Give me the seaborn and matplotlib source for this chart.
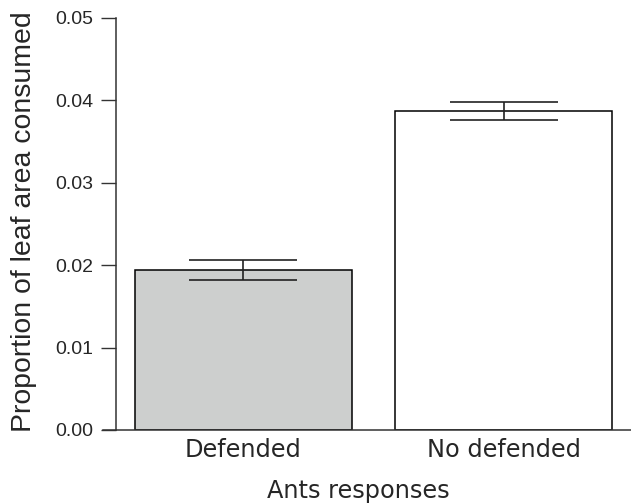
import pandas as pd
import matplotlib
matplotlib.use("Agg")
import matplotlib.pyplot as plt
import seaborn as sns

# values
groups = ["Defended", "No defended"]
means = [0.0194, 0.0387]
errors = [0.0012, 0.00105]
bar_colors = ["#cdcfce", "#ffffff"]
yticks = [0, 0.01, 0.02, 0.03, 0.04, 0.05]
ytick_labels = ["0.00", "0.01", "0.02", "0.03", "0.04", "0.05"]

df = pd.DataFrame({"group": groups, "mean": means, "err": errors})

sns.set_style("white")

fig = plt.figure(figsize=(6.31, 5.04), dpi=100)
ax = fig.add_axes([103 / 631, 74 / 504, 528 / 631, 412 / 504])

sns.barplot(
    data=df,
    x="group",
    y="mean",
    hue="group",
    palette=bar_colors,
    width=0.835,
    edgecolor="black",
    linewidth=1.1,
    errorbar=None,
    legend=False,
    ax=ax,
)
ax.errorbar(
    x=range(len(groups)),
    y=df["mean"],
    yerr=df["err"],
    fmt="none",
    ecolor="#222222",
    elinewidth=1.2,
    capsize=39,
    capthick=1.2,
)

# spines first: set_position resets the tick styling
for s in ["top", "right"]:
    ax.spines[s].set_visible(False)
ax.spines["left"].set_position(("data", -0.49))
for s in ["left", "bottom"]:
    ax.spines[s].set_color("#333333")
    ax.spines[s].set_linewidth(1.1)

ax.set_xlim(-0.54, 1.49)
ax.set_ylim(0, 0.05)
ax.set_yticks(yticks)
ax.set_yticklabels(ytick_labels, fontsize=14, family="Liberation Sans")
ax.set_xticks([0, 1])
ax.set_xticklabels(groups, fontsize=17.3, family="DejaVu Sans")

ax.tick_params(axis="y", which="major", left=True, length=11, width=1.0, color="#333333", pad=5.5)
ax.tick_params(axis="x", which="major", bottom=False, length=0, pad=6)

ax.set_ylabel("Proportion of leaf area consumed", fontsize=20.4, family="Liberation Sans")
ax.yaxis.set_label_coords(-0.125, 0.506)
ax.set_xlabel("Ants responses", fontsize=17.3, family="DejaVu Sans", labelpad=12)
ax.xaxis.label.set_x(0.483)

plt.savefig("out.png", dpi=100)
